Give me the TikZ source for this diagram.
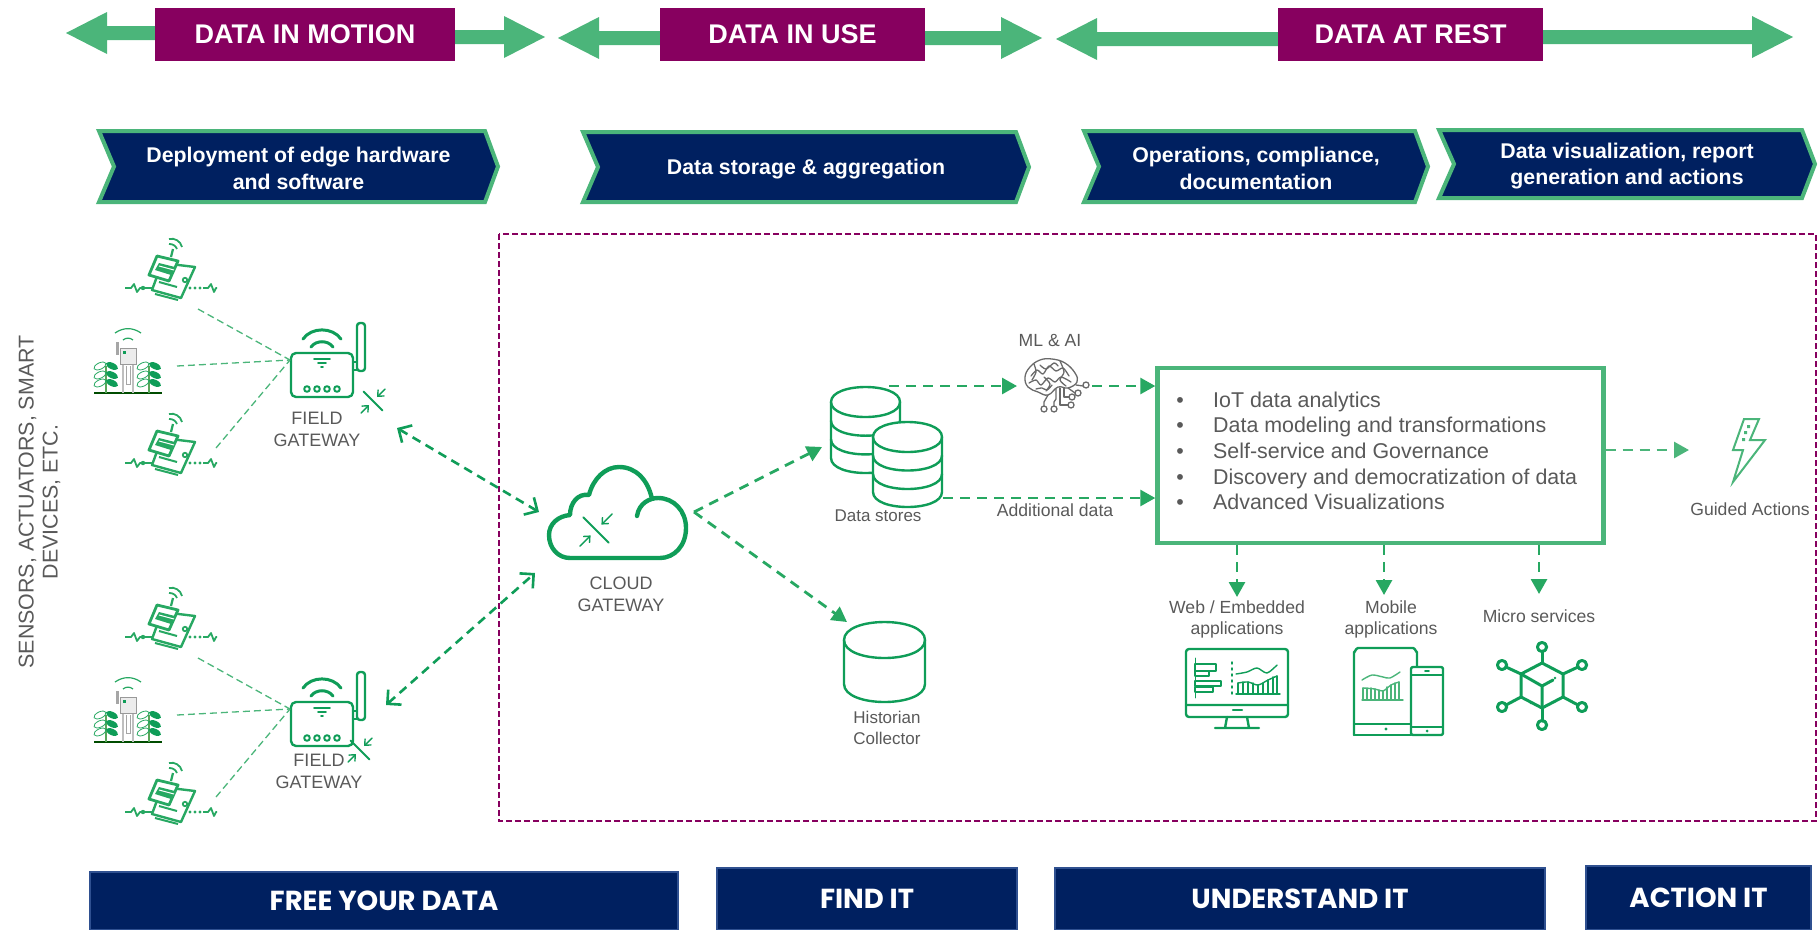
\documentclass[tikz,border=0pt]{standalone}
\usepackage{fontspec}
\setmainfont{Liberation Sans}
\newfontfamily\capsfont{Poppins}
\usetikzlibrary{arrows.meta}

\definecolor{bannerpurple}{HTML}{87005F}
\definecolor{flowgreen}{HTML}{4BB57A}
\definecolor{linkgreen}{HTML}{27A862}
\definecolor{icongreen}{HTML}{0F9D58}
\definecolor{navyfill}{HTML}{002060}
\definecolor{navyedge}{HTML}{2F5090}
\definecolor{notegray}{HTML}{595959}
\definecolor{braingray}{HTML}{6A6A6A}

\tikzset{
  bannerbox/.style={fill=bannerpurple, text=white, minimum height=53pt, inner sep=0pt,
    font=\fontsize{27}{30}\selectfont\bfseries},
  phasebox/.style={draw=flowgreen, fill=navyfill, line width=4pt, miter limit=10},
  phasetext/.style={text=white, align=center, font=\fontsize{21.3}{26.5}\selectfont\bfseries},
  goalbox/.style={draw=navyedge, fill=navyfill, line width=2pt, text=white, inner sep=0pt,
    font=\fontsize{27.5}{30}\selectfont\capsfont\bfseries},
  note/.style={text=notegray, align=center, inner sep=0pt, font=\fontsize{17}{21}\selectfont},
  smallnote/.style={note, font=\fontsize{17.6}{21.5}\selectfont},
  gatenote/.style={note, font=\fontsize{18}{22}\selectfont},
  listline/.style={text=notegray, inner sep=0pt, font=\fontsize{21.4}{24}\selectfont},
  sensorlink/.style={draw=flowgreen, line width=1.3pt, dash pattern=on 7pt off 4pt},
  dataflow/.style={draw=linkgreen, line width=2.8pt, dash pattern=on 10pt off 7pt,
    -{Triangle[length=15pt,width=16pt]}},
  gatelink/.style={draw=icongreen, line width=2.6pt, dash pattern=on 9pt off 6pt,
    {Straight Barb[length=10pt,width=20pt]}-{Straight Barb[length=10pt,width=20pt]}},
  iconline/.style={draw=icongreen, line width=2.4pt, line cap=round, line join=round},
  thinicon/.style={draw=icongreen, line width=1.4pt, line cap=round, line join=round},
  pics/squeeze/.style={code={
    \draw[thinicon, line width=1.8pt] (-9.5,-9.5) -- (9.5,9.5);
    \draw[thinicon, -{Straight Barb[length=5pt,width=9pt]}] (12,-12) -- (4,-4);
    \draw[thinicon, -{Straight Barb[length=5pt,width=9pt]}] (-12,12) -- (-4,4);
  }},
  pics/gatewaybox/.style={code={
    \draw[iconline, rounded corners=5pt] (-31,-22) rectangle (31,22);
    \draw[iconline] (31,-13) -- (35,-13) -- (35,-5) -- (31,-5);
    \draw[iconline, rounded corners=3pt] (35,-52) rectangle (43,-4);
    \draw[iconline, line width=3pt] (-19,-36) to[bend left=55] (19,-36);
    \draw[iconline, line width=3pt] (-11,-28) to[bend left=55] (11,-28);
    \draw[iconline, line width=1.6pt] (-8,-16) -- (8,-16) (-4,-12) -- (4,-12) (-1,-8) -- (1,-8);
    \foreach \ledx in {-15,-5,5,15}
      \draw[iconline, line width=2pt] (\ledx,14) circle (2.8pt);
  }},
  pics/fieldsensor/.style={code={
    \draw[iconline, draw=linkgreen, fill=white, line width=2.4pt] (-8,-5) -- (25,-1) -- (11,30) -- (-18,22) -- cycle;
    \draw[linkgreen, line width=2pt] (-11,14) -- (7,19) (-15,26) -- (8,32);
    \draw[linkgreen, line width=1.8pt] (15,12) circle (2.2pt);
    \draw[iconline, draw=linkgreen, fill=white, line width=2.8pt] (-13,-12) -- (8,-7) -- (-1,13) -- (-21,7) -- cycle;
    \fill[linkgreen] (-11,-5) -- (5,-1) -- (1,7) -- (-15,2) -- cycle;
    \draw[white, line width=1pt] (-11,-2) -- (4,2);
    \draw[linkgreen, line width=2.2pt] (1,-11) -- (3,-19);
    \draw[linkgreen, line width=1.8pt] (-1,-24) to[bend left=35] (7,-19);
    \draw[linkgreen, line width=1.8pt] (-1,-29) to[bend left=45] (12,-21);
    \draw[linkgreen, line width=1.8pt, line join=round] (-45,20) -- (-39,20) -- (-36,16) -- (-33,24) -- (-30,20) -- (-18,20);
    \fill[linkgreen] (-27,20) circle (2.2pt);
    \draw[linkgreen, line width=1.8pt, line join=round] (33,20) -- (38,20) -- (41,16) -- (44,24) -- (46,20) -- (47,20);
    \foreach \dotx in {20,25,30}
      \fill[linkgreen] (\dotx,20) circle (1.7pt);
  }},
  pics/fieldplant/.style={code={
    \draw[draw=black!70!green, line width=1.6pt] (-34,35) -- (34,35);
    \draw[gray!50, line width=1.2pt] (-5,6) -- (-5,35) (5,6) -- (5,35);
    \draw[gray!70, line width=1pt] (-2,8) -- (-2,26) -- (2,26) -- (2,8);
    \draw[draw=gray!80, fill=gray!15, line width=1pt] (-8,-10) rectangle (8,6);
    \fill[icongreen] (-5,-7) rectangle (-2,-4);
    \fill[gray!70] (-12,-16) rectangle (-9,-3);
    \draw[linkgreen, line width=1.2pt] (-5,-18) to[bend left=40] (5,-18);
    \draw[linkgreen, line width=1.2pt] (-13,-25) to[bend left=35] (13,-25);
    \foreach \stemx in {-22,21}{
      \draw[gray!70!green, line width=1.2pt] (\stemx,35) -- (\stemx,8);
      \foreach \leafy in {8,17,25}{
        \fill[icongreen, rotate around={-25:(\stemx+6,\leafy)}] (\stemx+6,\leafy) ellipse (6.5pt and 3.2pt);
        \draw[linkgreen, line width=.8pt, rotate around={25:(\stemx-6,\leafy)}] (\stemx-6,\leafy) ellipse (6.5pt and 3.2pt);
      }
    }
  }},
  pics/dbcan/.style n args={4}{code={
    \pgfmathsetmacro{\capk}{4/3*#2}
    \draw[iconline, fill=white] (-#1,0) .. controls (-#1,-\capk) and (#1,-\capk) .. (#1,0)
      -- (#1,#3) .. controls (#1,#3+\capk) and (-#1,#3+\capk) .. (-#1,#3) -- cycle;
    \foreach \bandy in {#4}
      \draw[iconline] (-#1,\bandy) .. controls (-#1,\bandy+\capk) and (#1,\bandy+\capk) .. (#1,\bandy);
  }},
}

\begin{document}
\begin{tikzpicture}[x=1pt, y=-1pt, line join=miter, >=latex]
  \useasboundingbox (0,0) rectangle (1819,929);

  % Green double arrows under the banners
  \foreach \xa/\xb/\ya/\yb in {66/545/33/37, 558/1042/38/38, 1056/1793/39/37}{
    \pgfmathsetmacro{\xm}{(\xa+\xb)/2}
    \fill[flowgreen] (\xa,\ya) -- (\xa+41,\ya-21) -- (\xa+41,\ya-7) -- (\xm,\ya-7)
      -- (\xm,\ya+7) -- (\xa+41,\ya+7) -- (\xa+41,\ya+21) -- cycle;
    \fill[flowgreen] (\xb,\yb) -- (\xb-41,\yb-21) -- (\xb-41,\yb-7) -- (\xm,\yb-7)
      -- (\xm,\yb+7) -- (\xb-41,\yb+7) -- (\xb-41,\yb+21) -- cycle;
  }

  % Banners
  \node[bannerbox, minimum width=300pt] (motion) at (305,34.5) {DATA IN MOTION};
  \node[bannerbox, minimum width=265pt] (inuse) at (792.5,34.5) {DATA IN USE};
  \node[bannerbox, minimum width=265pt] (atrest) at (1410.5,34.5) {DATA AT REST};

  % Chevrons
  \foreach \xa/\xb/\ya/\yb/\i/\txt in {
      99/498/131/202/1/{Deployment of edge hardware\\and software},
      583/1029/132/202/2/{Data storage \& aggregation},
      1084/1428/131/202/3/{Operations, compliance,\\documentation},
      1439/1815/130/198/4/{Data visualization, report\\generation and actions}}{
    \pgfmathsetmacro{\xm}{(\xa+\xb)/2}
    \pgfmathsetmacro{\ym}{(\ya+\yb)/2}
    \draw[phasebox] (\xa,\ya) -- (\xb-13,\ya) -- (\xb,\ym) -- (\xb-13,\yb)
      -- (\xa,\yb) -- (\xa+15,\ym) -- cycle;
    \node[phasetext] (phase\i) at (\xm,\ym+2) {\txt};
  }

  % Dashed frame
  \draw[draw=bannerpurple, line width=2.4pt, dash pattern=on 6pt off 3pt] (499,234) rectangle (1816,821);

  % Side label
  \node[note, rotate=90, font=\fontsize{21.4}{24}\selectfont] (devices) at (39.5,502)
    {SENSORS, ACTUATORS, SMART\\DEVICES, ETC.};

  % Field groups
  \foreach \g/\dy/\dlab/\dglx/\dlx in {A/0/1/0/0, B/349/343/-13/2}{
    \pic at (170,{268+\dy}) {fieldsensor};
    \pic at (128,{358+\dy}) {fieldplant};
    \pic at (170,{443+\dy}) {fieldsensor};
    \pic at (322,{375+\dy}) {gatewaybox};
    \pic at ({373+\dglx},{401+\dy}) {squeeze};
    \coordinate (sensorTop\g) at (198,{309+\dy});
    \coordinate (sensorMid\g) at (177,{366+\dy});
    \coordinate (sensorLow\g) at (216,{448+\dy});
    \coordinate (gateIn\g) at (290,{360+\dy});
    \draw[sensorlink] (sensorTop\g) -- (gateIn\g);
    \draw[sensorlink] (sensorMid\g) -- (gateIn\g);
    \draw[sensorlink] (sensorLow\g) -- (gateIn\g);
    \node[gatenote] (gateLabel\g) at ({317+\dlx},{428+\dlab}) {FIELD\\GATEWAY};
  }

  % Cloud gateway
  \draw[iconline, line width=4.4pt]
    (637,516) .. controls (639,503) and (650,498) .. (658,498)
    .. controls (674,498) and (686,511) .. (686,528)
    .. controls (686,546) and (674,558) .. (660,558)
    -- (570,558)
    .. controls (558,558) and (549,548) .. (549,535)
    .. controls (549,524) and (558,516) .. (570,515)
    .. controls (570,503) and (578,493) .. (589,495)
    .. controls (593,479) and (605,467) .. (619,467)
    .. controls (636,467) and (648,480) .. (652,499);
  \pic[scale=1.35] at (596,530) {squeeze};
  \node[gatenote] (cloudLabel) at (621,594) {CLOUD\\GATEWAY};

  % Links between the gateways and the cloud
  \coordinate (gateEndA) at (397,428);
  \coordinate (cloudInA) at (539,512);
  \coordinate (gateEndB) at (386,705);
  \coordinate (cloudInB) at (535,573);
  \draw[gatelink] (gateEndA) -- (cloudInA);
  \draw[gatelink] (gateEndB) -- (cloudInB);

  % Stores
  \pic at (865.5,402) {dbcan={34.5}{15}{56}{0,18.7,37.4}};
  \pic at (907.5,437) {dbcan={34.5}{15}{55}{0,18.5,37}};
  \pic at (884.5,640) {dbcan={40.5}{18}{44}{0}};
  \node[note] (storesLabel) at (878,516) {Data stores};
  \node[note] (historianLabel) at (887,727.5) {Historian\\Collector};

  % Brain
  \begin{scope}[draw=braingray, line width=1.3pt, line cap=round, line join=round]
    \draw plot[smooth cycle, tension=.7] coordinates {(1025,377) (1030,367) (1040,360) (1052,359)
      (1065,363) (1075,373) (1077,382) (1068,388) (1058,387) (1048,395) (1038,392) (1028,387)};
    \draw plot[smooth] coordinates {(1031,376) (1037,370) (1043,374) (1049,366) (1056,371) (1063,368) (1069,376)};
    \draw plot[smooth] coordinates {(1029,383) (1036,380) (1041,385) (1048,378) (1055,382) (1061,377) (1071,382)};
    \draw plot[smooth] coordinates {(1040,365) (1046,369) (1054,363) (1058,366)};
    \draw plot[smooth] coordinates {(1036,389) (1042,388) (1047,390) (1052,385)};
    \draw plot[smooth] coordinates {(1034,364) (1036,372) (1032,380)};
    \draw plot[smooth] coordinates {(1060,361) (1064,372) (1060,380) (1066,386)};
    \draw plot[smooth] coordinates {(1044,377) (1050,384) (1046,391)};
    \draw (1048,395) -- (1044,402) -- (1044,406) (1056,389) -- (1056,399) -- (1054,402) -- (1054,406);
    \draw (1060,388) -- (1060,405) -- (1068,405) (1064,388) -- (1064,397) -- (1069,397);
    \draw (1068,388) -- (1075,393) (1076,385) -- (1083,386);
    \foreach \cx/\cy in {1044/409, 1054/409, 1071/405, 1072/397, 1078/393, 1086/385}
      \draw (\cx,\cy) circle (3pt);
  \end{scope}
  \node[smallnote] (brainLabel) at (1050,340) {ML \& AI};

  % Platform box
  \node[draw=flowgreen, line width=4.4pt, minimum width=446pt, minimum height=175pt, inner sep=0pt]
    (platform) at (1380.5,455.5) {};
  \foreach \i/\y/\txt in {1/407/IoT data analytics, 2/432/Data modeling and transformations,
      3/458/Self-service and Governance, 4/484/Discovery and democratization of data,
      5/509/Advanced Visualizations}{
    \node[listline, anchor=base] (bullet\i) at (1180,\y) {•};
    \node[listline, anchor=base west] (item\i) at (1213,\y) {\txt};
  }

  % Data flow arrows
  \coordinate (cloudOut) at (694,512);
  \coordinate (storeIn) at (822,447);
  \coordinate (historianIn) at (847,622);
  \draw[dataflow] (cloudOut) -- (storeIn);
  \draw[dataflow] (cloudOut) -- (historianIn);
  \coordinate (storeOutA) at (889,386);
  \coordinate (brainIn) at (1017,386);
  \coordinate (brainOut) at (1092,386);
  \coordinate (storeOutB) at (943,498);
  \draw[dataflow] (storeOutA) -- (brainIn);
  \draw[dataflow] (brainOut) -- (brainOut -| platform.west);
  \draw[dataflow] (storeOutB) -- (storeOutB -| platform.west);
  \node[smallnote] (extraLabel) at (1055,510) {Additional data};

  % Arrows out of the platform box
  \foreach \n/\x/\yend in {web/1237/597, mobile/1384/595, micro/1539/594}{
    \coordinate (\n In) at (\x,\yend);
    \draw[dataflow] (\n In |- platform.south) -- (\n In);
  }
  \coordinate (actionIn) at (1689,450);
  \draw[dataflow, draw=flowgreen] (actionIn -| platform.east) -- (actionIn);

  % Labels below the box
  \node[smallnote] (webLabel) at (1237,619.5) {Web / Embedded\\applications};
  \node[smallnote] (mobileLabel) at (1391,619.5) {Mobile\\applications};
  \node[smallnote] (microLabel) at (1539,616) {Micro services};

  % Monitor
  \draw[iconline, rounded corners=3pt] (1186,649) rectangle (1288,717);
  \draw[iconline] (1186,705) -- (1288,705) (1227,717) -- (1225,728) (1247,717) -- (1249,728) (1215,728) -- (1259,728);
  \draw[iconline] (1233,710) -- (1242,710);
  \draw[thinicon, line width=.9pt] (1195,658) -- (1195,698);
  \foreach \xr/\yt/\yb in {1216/664/671, 1209/671/676, 1221/681/686, 1213/687/692}
    \draw[thinicon] (1195,\yt) rectangle (\xr,\yb);
  \draw[thinicon, dash pattern=on 2pt off 4pt] (1232,662) -- (1232,694);
  \draw[thinicon] plot[smooth] coordinates {(1236,674) (1247,672) (1257,668) (1267,673) (1277,665)};
  \foreach \xb/\yt in {1238/683, 1243/682, 1248/682, 1253/683, 1258/685, 1263/683, 1268/680, 1273/677, 1277/676}
    \draw[thinicon] (\xb,694) -- (\xb,\yt);
  \draw[thinicon] plot[smooth] coordinates {(1238,683) (1248,682) (1258,685) (1268,680) (1277,676)};
  \draw[thinicon] (1236,694) -- (1280,694);

  % Tablet and phone
  \draw[iconline] (1354,735) -- (1354,652) to[out=-90,in=180] (1358,648) -- (1413,648) to[out=0,in=-90] (1417,652) -- (1417,667);
  \draw[iconline] (1354,735) -- (1411,735) (1354,724) -- (1411,724);
  \draw[iconline, fill=white, rounded corners=2pt] (1411,667) rectangle (1443,735);
  \draw[iconline, line width=1.8pt] (1411,675) -- (1443,675) (1411,727) -- (1443,727);
  \draw[iconline, line width=1.8pt] (1425,671) -- (1429,671);
  \fill[icongreen] (1427,731) circle (1.5pt) (1386,729) circle (1.7pt);
  \draw[thinicon, draw=flowgreen] plot[smooth] coordinates {(1362,680) (1372,675) (1383,677) (1390,678) (1400,672)};
  \foreach \xb/\yt in {1363/688, 1367/688, 1371/688, 1375/689, 1379/690, 1383/691, 1387/687, 1391/685, 1395/683, 1399/682}
    \draw[thinicon, draw=flowgreen] (\xb,700) -- (\xb,\yt);
  \draw[thinicon, draw=flowgreen] plot[smooth] coordinates {(1363,688) (1375,689) (1383,691) (1391,685) (1399,682)};
  \draw[thinicon, draw=flowgreen] (1362,700) -- (1403,700);

  % Micro services
  \begin{scope}[every path/.append style={iconline, line width=3pt}]
    \draw (1542,663) -- (1563,674) -- (1563,697) -- (1542,708) -- (1521,697) -- (1521,674) -- cycle;
    \draw (1521,674) -- (1542,686) -- (1553,680) (1542,686) -- (1542,708);
    \foreach \ax/\ay/\bx/\by in {1542/663/1542/651, 1563/674/1578/667, 1563/697/1578/705,
        1542/708/1542/721, 1521/697/1506/705, 1521/674/1506/667}
      \draw (\ax,\ay) -- (\bx,\by);
    \foreach \cx/\cy in {1542/647, 1582/665, 1582/707, 1542/725, 1502/707, 1502/665}
      \draw (\cx,\cy) circle (4.6pt);
  \end{scope}
  \fill[icongreen] (1555,678) circle (1.4pt) (1531,703) circle (1.4pt);

  % Guided actions
  \draw[draw=flowgreen, line width=2pt, line join=miter]
    (1744,419) -- (1759,419) -- (1750,440) -- (1765,440) -- (1733,482) -- (1743,450) -- (1733,450) -- cycle;
  \fill[flowgreen] (1747,425) rectangle (1750,428) (1744,431) rectangle (1747,434) (1742,438) rectangle (1745,441);
  \node[smallnote] (actionLabel) at (1750,509) {Guided Actions};

  % Goals along the bottom
  \node[goalbox, minimum width=588pt, minimum height=58pt] (goalFree) at (384,901) {FREE YOUR DATA};
  \node[goalbox, minimum width=300pt, minimum height=62pt] (goalFind) at (867,899) {FIND IT};
  \node[goalbox, minimum width=490pt, minimum height=62pt] (goalUnderstand) at (1300,899) {UNDERSTAND IT};
  \node[goalbox, minimum width=225pt, minimum height=64pt] (goalAction) at (1698.5,898) {ACTION IT};
\end{tikzpicture}
\end{document}
